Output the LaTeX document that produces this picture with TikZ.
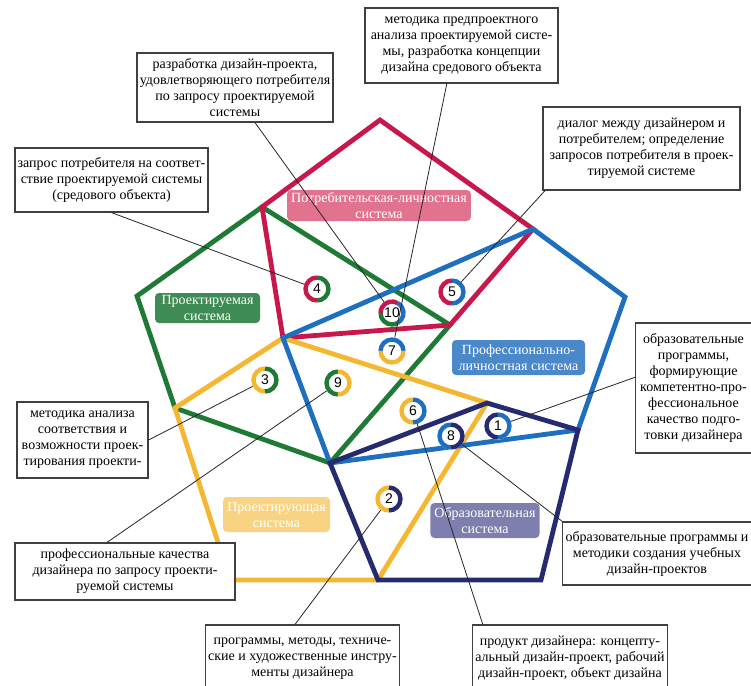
\documentclass[tikz,border=0pt]{standalone}
\usepackage{fontspec}
\setmainfont{Liberation Serif}
\newfontfamily\numfont{Liberation Sans}
\usetikzlibrary{calc}
\definecolor{cred}{HTML}{C8174B}
\definecolor{cgreen}{HTML}{1F7A35}
\definecolor{cblue}{HTML}{1F6FBF}
\definecolor{cyellow}{HTML}{F5B731}
\definecolor{cnavy}{HTML}{262B6F}
\definecolor{lred}{HTML}{E2738F}
\definecolor{lgreen}{HTML}{3F8B55}
\definecolor{lblue}{HTML}{4A88C9}
\definecolor{lyellow}{HTML}{F8D382}
\definecolor{lnavy}{HTML}{7E7FAE}
\newcommand{\ringtwo}[4]{%
  \draw[line width=3.3pt,#2] (#1.center) ++(#4:8.6pt) arc[start angle=#4, delta angle=180, radius=8.6pt];
  \draw[line width=3.3pt,#3] (#1.center) ++(#4+180:8.6pt) arc[start angle=#4+180, delta angle=180, radius=8.6pt];}
\begin{document}
\begin{tikzpicture}[x=0.75pt,y=-0.75pt,
  edge/.style={line width=3.6pt},
  sys/.style={rounded corners=3pt, text=white, align=center, inner xsep=3pt, inner ysep=1pt,
    font=\fontsize{10.5}{12}\selectfont},
  txt/.style={draw=black!75, line width=0.9pt, fill=white, align=center, inner sep=2pt,
    font=\fontsize{10.5}{12}\selectfont},
  num/.style={circle, fill=white, minimum size=20.5pt, inner sep=0pt, font=\numfont\fontsize{10.5}{10.5}\selectfont},
  conn/.style={line width=0.6pt, black!85}]
\useasboundingbox (0,0) rectangle (751,686);
\fill[white] (0,0) rectangle (751,686);
% systems
\draw[edge,cgreen] (262,207) -- (450,325) -- (330,463) -- (175,408) -- (137,296) -- cycle;
\draw[edge,cred] (380,120) -- (533,229) -- (450,325) -- (283,338) -- (262,207) -- cycle;
\draw[edge,cyellow] (283,338) -- (487,403) -- (378,580) -- (230,580) -- (175,408) -- cycle;
\draw[edge,cblue] (283,338) -- (533,229) -- (625,297) -- (578,430) -- (330,463) -- cycle;
\draw[edge,cnavy] (330,463) -- (487,403) -- (578,430) -- (541,580) -- (378,580) -- cycle;
% system labels
\node[sys, fill=lred, minimum width=136.5pt, minimum height=23.25pt] (lp) at (379,205.5) {Потребительская-личностная\\система};
\node[sys, fill=lgreen, minimum width=78.75pt, minimum height=22.5pt] (lg) at (207.5,308) {Проектируемая\\система};
\node[sys, fill=lblue, minimum width=99.75pt, minimum height=26.25pt] (lb) at (518.5,357.5) {Профессионально-\\личностная система};
\node[sys, fill=lyellow, minimum width=80.25pt, minimum height=26.25pt] (ly) at (276.5,514.5) {Проектирующая\\система};
\node[sys, fill=lnavy, minimum width=79.5pt, minimum height=26.25pt] (ln) at (485,520.5) {Образовательная\\система};
% numbered nodes
\node[num] (n1) at (498,426) {1};
\node[num] (n2) at (389,499) {2};
\node[num] (n3) at (265,380) {3};
\node[num] (n4) at (317,289) {4};
\node[num] (n5) at (452,292) {5};
\node[num] (n6) at (413,411) {6};
\node[num] (n7) at (392,351) {7};
\node[num] (n8) at (451,436) {8};
\node[num] (n9) at (338,383) {9};
\node[num] (n10) at (392,313) {10};
\ringtwo{n1}{cnavy}{cblue}{90}
\ringtwo{n2}{cyellow}{cnavy}{90}
\ringtwo{n3}{cyellow}{cgreen}{90}
\ringtwo{n4}{cred}{cgreen}{90}
\ringtwo{n5}{cred}{cblue}{90}
\ringtwo{n6}{cyellow}{cblue}{90}
\ringtwo{n7}{cblue}{cyellow}{0}
\ringtwo{n8}{cblue}{cnavy}{90}
\ringtwo{n9}{cgreen}{cyellow}{90}
\draw[line width=3.3pt,cred] (n10.center) ++(60:8.6pt) arc[start angle=60, delta angle=120, radius=8.6pt];
\draw[line width=3.3pt,cgreen] (n10.center) ++(180:8.6pt) arc[start angle=180, delta angle=120, radius=8.6pt];
\draw[line width=3.3pt,cblue] (n10.center) ++(300:8.6pt) arc[start angle=300, delta angle=120, radius=8.6pt];
% text boxes
\node[txt, minimum width=145.5pt, minimum height=51.75pt] (b1) at (235,87.5) {разработка дизайн-проекта,\\удовлетворяющего потребителя\\по запросу проектируемой\\системы};
\node[txt, minimum width=144.75pt, minimum height=56.25pt] (b2) at (461.5,45.5) {методика предпроектного\\анализа проектируемой систе-\\мы, разработка концепции\\дизайна средового объекта};
\node[txt, minimum width=147.75pt, minimum height=62.25pt] (b3) at (641.5,148.5) {диалог между дизайнером и\\потребителем; определение\\запросов потребителя в проек-\\тируемой системе};
\node[txt, minimum width=144.75pt, minimum height=48pt] (b4) at (111.5,180) {запрос потребителя на соответ-\\ствие проектируемой системы\\(средового объекта)};
\node[txt, minimum width=98.25pt, minimum height=57pt] (b5) at (82.5,440) {методика анализа\\соответствия и\\возможности проек-\\тирования проекти-};
\node[txt, minimum width=165pt, minimum height=42.75pt] (b6) at (125,571.5) {профессиональные качества\\дизайнера по запросу проекти-\\руемой системы};
\node[txt, minimum width=143.25pt, minimum height=50.25pt] (b7) at (302.5,658.5) {программы, методы, техниче-\\ские и художественные инстру-\\менты дизайнера};
\node[txt, minimum width=142.5pt, minimum height=50.25pt] (b8) at (570,658.5) {продукт дизайнера: концепту-\\альный дизайн-проект, рабочий\\дизайн-проект, объект дизайна};
\node[txt, minimum width=140.25pt, minimum height=47.25pt] (b9) at (657,553.5) {образовательные программы и\\методики создания учебных\\дизайн-проектов};
\node[txt, minimum width=87pt, minimum height=97.5pt] (b10) at (693.5,388) {образовательные\\программы,\\формирующие\\компетентно-про-\\фессиональное\\качество подго-\\товки дизайнера};
% connectors
\draw[conn] ([xshift=15pt]b1.south) -- (n10);
\draw[conn] ([xshift=-11pt]b2.south) -- (n7);
\draw[conn] ([xshift=2pt]b3.south west) -- (n5);
\draw[conn] (b4.south) -- (n4);
\draw[conn] (b5.east) -- (n3);
\draw[conn] ([xshift=-13.5pt]b6.north) -- (n9);
\draw[conn] ([xshift=-5.6pt]b7.north) -- (n2);
\draw[conn] ([xshift=8pt]b8.north west) -- (n6);
\draw[conn] (b9.north west) -- (n8);
\draw[conn] ([yshift=8pt]b10.west) -- (n1);
\end{tikzpicture}
\end{document}
